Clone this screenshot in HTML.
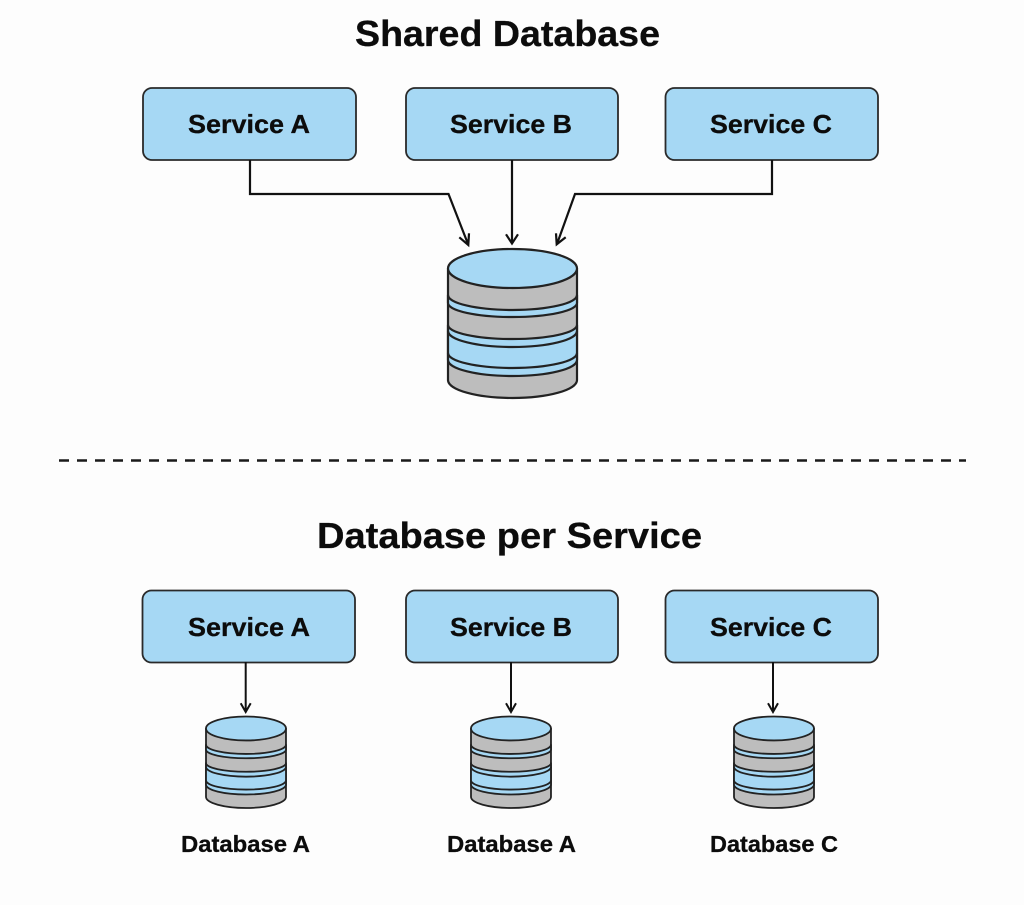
<!DOCTYPE html>
<html>
<head>
<meta charset="utf-8">
<style>
html,body{margin:0;padding:0;background:#fdfdfd;}
svg{display:block;}
text{font-family:"Liberation Sans",sans-serif;font-weight:700;fill:#0c0c0c;stroke:#0c0c0c;stroke-width:.3;}
.box{fill:#a6d8f4;stroke:#2a2a2a;stroke-width:1.8;}
.ln{fill:none;stroke:#111;stroke-width:2.2;}
.sl{fill:none;stroke:#111;stroke-width:2;}
#cyl path,#cyl ellipse{vector-effect:non-scaling-stroke;stroke-linejoin:round;}
.big{stroke:#222;stroke-width:2.2;}
.sm{stroke:#222;stroke-width:1.8;}
</style>
</head>
<body>
<svg width="1024" height="905" viewBox="0 0 1024 905" xmlns="http://www.w3.org/2000/svg">
<defs>
<g id="cyl">
  <path d="M0 19.5V131A64.5 18 0 0 0 129 131V19.5Z" fill="#bdbdbd"/>
  <path d="M0 46A64.5 15 0 0 0 129 46V54A64.5 14 0 0 1 0 54Z" fill="#a6d8f4"/>
  <path d="M0 76A64.5 14 0 0 0 129 76V111A64.5 16 0 0 1 0 111Z" fill="#a6d8f4"/>
  <path d="M0 82A64.5 16 0 0 0 129 82" fill="none"/>
  <path d="M0 104A64.5 15 0 0 0 129 104" fill="none"/>
  <ellipse cx="64.5" cy="19.5" rx="64.5" ry="19.5" fill="#a6d8f4"/>
</g>
</defs>

<rect width="1024" height="905" fill="#fdfdfd"/>

<text x="355" y="46" font-size="36" textLength="305" lengthAdjust="spacingAndGlyphs">Shared Database</text>

<rect class="box" x="143" y="88" width="213" height="72" rx="9"/>
<rect class="box" x="406" y="88" width="212" height="72" rx="9"/>
<rect class="box" x="665.5" y="88" width="212.5" height="72" rx="9"/>
<text x="188" y="133" font-size="26" textLength="122" lengthAdjust="spacingAndGlyphs">Service A</text>
<text x="450" y="133" font-size="26" textLength="122" lengthAdjust="spacingAndGlyphs">Service B</text>
<text x="710" y="133" font-size="26" textLength="122" lengthAdjust="spacingAndGlyphs">Service C</text>

<path class="ln" d="M250 160V194H448.500L468 244"/>
<path class="ln" d="M459.300 237.300L468.300 245L469 233.300"/>
<path class="ln" d="M512 160V243"/>
<path class="ln" d="M506 234.300L512 243.500L518 234.300"/>
<path class="ln" d="M772 160V194H575L557 244"/>
<path class="ln" d="M565.700 237.300L556.700 244.300L556 233.300"/>

<g class="big" transform="translate(448 249)"><use href="#cyl"/></g>

<path d="M59 460.500H966" fill="none" stroke="#1a1a1a" stroke-width="2.4" stroke-dasharray="10 8"/>

<text x="317" y="548" font-size="36" textLength="385" lengthAdjust="spacingAndGlyphs">Database per Service</text>

<rect class="box" x="142.500" y="590.500" width="212.500" height="72" rx="9"/>
<rect class="box" x="406" y="590.500" width="212" height="72" rx="9"/>
<rect class="box" x="665.500" y="590.500" width="212.500" height="72" rx="9"/>
<text x="188" y="636" font-size="26" textLength="122" lengthAdjust="spacingAndGlyphs">Service A</text>
<text x="450" y="636" font-size="26" textLength="122" lengthAdjust="spacingAndGlyphs">Service B</text>
<text x="710" y="636" font-size="26" textLength="122" lengthAdjust="spacingAndGlyphs">Service C</text>

<path class="sl" d="M245.700 662V711M240.700 703.300L245.700 712L250.700 703.300"/>
<path class="sl" d="M511 662V711M506 703.300L511 712L516 703.300"/>
<path class="sl" d="M773 662V711M768 703.300L773 712L778 703.300"/>

<g class="sm" transform="translate(206 716.500) scale(0.62 0.614)"><use href="#cyl"/></g>
<g class="sm" transform="translate(471 716.500) scale(0.62 0.614)"><use href="#cyl"/></g>
<g class="sm" transform="translate(734 716.500) scale(0.62 0.614)"><use href="#cyl"/></g>

<text x="181" y="852" font-size="23" textLength="129" lengthAdjust="spacingAndGlyphs">Database A</text>
<text x="447" y="852" font-size="23" textLength="129" lengthAdjust="spacingAndGlyphs">Database A</text>
<text x="710" y="852" font-size="23" textLength="128" lengthAdjust="spacingAndGlyphs">Database C</text>
</svg>
</body>
</html>
